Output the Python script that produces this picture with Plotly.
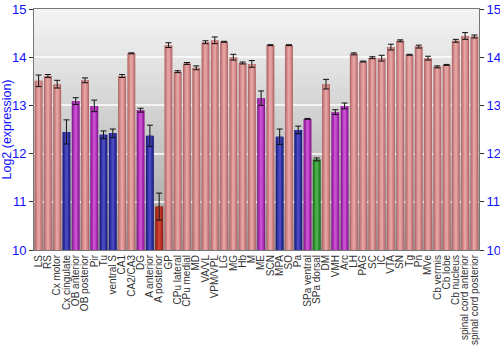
import plotly.graph_objects as go

# Brain regions and mean log2 expression with standard error
regions = [
    "LS", "RS", "Cx motor", "Cx cingulate", "OB anterior", "OB posterior", "Pir", "Tu",
    "ventral S", "CA1", "CA2/CA3", "DG", "A anterior", "A posterior", "GP", "CPu lateral",
    "CPu medial", "MD", "VA/VL", "VPM/VPL", "LG", "MG", "Hb", "M", "ME", "SCN", "MPA",
    "SO", "Pa", "SPa ventral", "SPa dorsal", "DM", "VMH", "Arc", "LH", "PAG", "SC", "IC",
    "VTA", "SN", "Tg", "Pn", "MVe", "Cb vermis", "Cb lobe", "Cb nucleus",
    "spinal cord anterior", "spinal cord posterior",
]
expression = [
    13.51, 13.61, 13.44, 12.45, 13.09, 13.52, 12.99, 12.39,
    12.42, 13.61, 14.08, 12.90, 12.37, 10.90, 14.25, 13.70,
    13.87, 13.78, 14.31, 14.35, 14.32, 14.00, 13.88, 13.86, 13.15, 14.25, 12.35,
    14.25, 12.49, 12.72, 11.88, 13.44, 12.86, 12.99, 14.07, 13.91, 13.99, 13.98,
    14.21, 14.34, 14.05, 14.22, 13.98, 13.80, 13.84, 14.34,
    14.44, 14.43,
]
std_err = [
    0.12, 0.03, 0.08, 0.25, 0.07, 0.05, 0.12, 0.08,
    0.09, 0.03, 0.01, 0.04, 0.22, 0.28, 0.05, 0.02,
    0.02, 0.04, 0.03, 0.07, 0.01, 0.06, 0.02, 0.07, 0.15, 0.01, 0.16,
    0.01, 0.08, 0.01, 0.03, 0.10, 0.05, 0.06, 0.02, 0.01, 0.02, 0.06,
    0.06, 0.02, 0.01, 0.03, 0.04, 0.02, 0.01, 0.03,
    0.07, 0.03,
]
# Colour group of each region
groups = [
    "p", "p", "p", "b", "v", "p", "v", "b",
    "b", "p", "p", "v", "b", "r", "p", "p",
    "p", "p", "p", "p", "p", "p", "p", "p", "v", "p", "b",
    "p", "b", "v", "g", "p", "v", "v", "p", "p", "p", "p",
    "p", "p", "p", "p", "p", "p", "p", "p",
    "p", "p",
]

# Edge / middle / centre shades give each bar a rounded, cylinder look
shades = {
    "p": ["#b26a6a", "#cf8484", "#e4a2a2"],
    "b": ["#1e1e7c", "#2e2e9e", "#4a4ac0"],
    "v": ["#861f8e", "#a82cb2", "#c850d0"],
    "r": ["#8e2014", "#b02c1e", "#cc4232"],
    "g": ["#1e6e1e", "#2c922c", "#4cb04c"],
}
widths = [0.86, 0.62, 0.3]

fig = go.Figure()
for layer, w in enumerate(widths):
    last = layer == len(widths) - 1
    fig.add_trace(go.Bar(
        x=regions,
        y=expression,
        width=w,
        marker=dict(color=[shades[g][layer] for g in groups], line=dict(width=0)),
        error_y=dict(type="data", array=std_err, visible=last,
                     color="#111111", thickness=1, width=3),
        hoverinfo="skip" if not last else None,
        showlegend=False,
    ))

# Invisible trace carrying the mirrored right-hand axis
fig.add_trace(go.Scatter(x=[regions[0]], y=[10], yaxis="y2", mode="markers",
                         marker=dict(opacity=0), showlegend=False, hoverinfo="skip"))

# Vertical grey gradient behind the plot area (overlapping bands avoid seams)
n = 60
top_c, bot_c = 244, 150
step = 5 / n
shapes = []
for i in range(n):
    y0 = 10 + step * i
    y1 = min(15, y0 + 2 * step)
    t = (i + 0.5) / n
    v = int(round(bot_c + (top_c - bot_c) * (t ** 0.8)))
    shapes.append(dict(type="rect", xref="paper", yref="y", x0=0, x1=1, y0=y0, y1=y1,
                       fillcolor=f"rgb({v},{v},{v})", line=dict(width=0), layer="below"))

tick_font = dict(family="Liberation Sans, Arial, sans-serif", size=13, color="#1010ff")
yaxis_common = dict(
    range=[10, 15], tickvals=[10, 11, 12, 13, 14, 15], ticks="outside", ticklen=4,
    tickcolor="#333333", tickfont=tick_font, showline=True, linecolor="#777777",
    linewidth=1, zeroline=False, automargin=False,
)

fig.update_layout(
    width=500, height=350,
    margin=dict(l=34, r=21, t=9, b=100),
    paper_bgcolor="white",
    plot_bgcolor="#c8c8c8",
    barmode="overlay",
    shapes=shapes,
    xaxis=dict(
        type="category", tickangle=-90, showgrid=False, ticks="",
        tickmode="array", tickvals=regions, ticktext=regions,
        tickfont=dict(family="Liberation Sans, Arial, sans-serif", size=10, color="#333333"),
        showline=True, linecolor="#777777", mirror=True, range=[-0.5, len(regions) - 0.5],
        automargin=False,
    ),
    yaxis=dict(
        **yaxis_common, showgrid=True, gridcolor="rgba(255,255,255,0.75)", gridwidth=2,
        title=dict(text="Log2 (expression)", standoff=4,
                   font=dict(family="Liberation Sans, Arial, sans-serif", size=12.5,
                             color="#1010ff")),
    ),
    yaxis2=dict(**yaxis_common, overlaying="y", side="right", showgrid=False),
)

fig.write_html("out.html")
